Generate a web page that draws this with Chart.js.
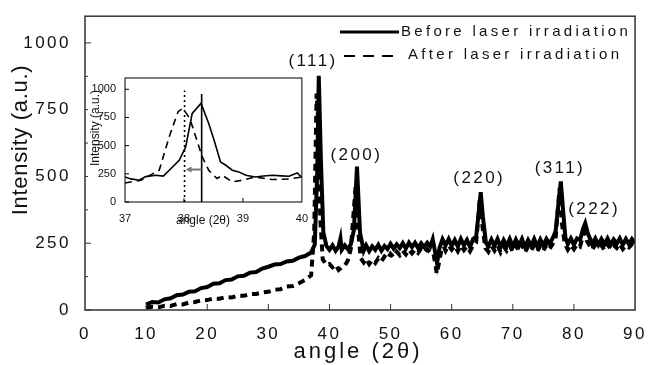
<!DOCTYPE html>
<html>
<head>
<meta charset="utf-8">
<script src="https://cdn.jsdelivr.net/npm/chart.js@4.4.0/dist/chart.umd.min.js"></script>
<style>
  html, body { margin: 0; padding: 0; background: #fff; }
  #wrap { position: relative; width: 653px; height: 365px; overflow: hidden; }
  #mainChart { position: absolute; left: 0; top: 0; }
  #insetChart { position: absolute; left: 88px; top: 70px; }
</style>
</head>
<body>
<div id="wrap">
  <canvas id="mainChart" width="653" height="365"></canvas>
  <canvas id="insetChart" width="222" height="165"></canvas>
</div>
<script>
// Main pattern: before laser irradiation (solid)
var beforeAngle = [10, 11, 12, 13, 14, 15, 16, 17, 18, 19, 20, 21, 22, 23, 24, 25, 26, 27, 28, 29, 30,
  31, 32, 33, 34, 35, 36, 37, 37.6, 38.0, 38.25, 38.6, 39.0, 39.5, 40, 40.5, 41, 41.5, 41.8, 42, 42.5, 43, 43.5,
  44.0, 44.5, 45.0, 45.6, 46, 46.5, 47, 47.5, 48, 48.5, 49, 49.5, 50, 50.5, 51, 51.5, 52, 52.5, 53, 53.5,
  54, 54.5, 55, 55.5, 56, 56.5, 56.9, 57.3, 57.6, 58.0, 58.5, 59, 59.5, 60, 60.5, 61, 61.5, 62, 62.5, 63, 63.5,
  64, 64.4, 64.75, 65.1, 65.6, 66, 66.5, 67, 67.5, 68, 68.5, 69, 69.5, 70, 70.5, 71, 71.5, 72, 72.5, 73, 73.5,
  74, 74.5, 75, 75.5, 76, 76.5, 77, 77.5, 77.85, 78.2, 78.6, 79, 79.5, 80, 80.5, 81, 81.5, 81.85, 82.3, 82.8,
  83, 83.5, 84, 84.5, 85, 85.5, 86, 86.5, 87, 87.5, 88, 88.5, 89, 89.5, 90];
var beforeIntensity = [20, 30, 28, 40, 44, 55, 58, 68, 70, 82, 86, 98, 100, 112, 114, 126, 128, 140, 142, 155, 162,
  170, 172, 182, 184, 196, 202, 215, 245, 520, 877, 560, 290, 240, 225, 242, 222, 238, 268, 225, 242, 228, 246,
  300, 537, 290, 222, 242, 220, 238, 225, 244, 222, 240, 228, 248, 230, 246, 232, 250, 230, 252, 235,
  252, 232, 250, 236, 252, 238, 265, 215, 175, 232, 265, 242, 266, 240, 262, 238, 266, 242, 262, 236, 266,
  275, 360, 441, 350, 252, 238, 264, 240, 266, 236, 262, 240, 266, 238, 264, 240, 266, 236, 262, 240, 266,
  238, 264, 242, 266, 248, 268, 295, 405, 481, 380, 272, 246, 268, 244, 268, 262, 305, 325, 285, 258,
  246, 268, 244, 266, 246, 268, 244, 264, 248, 268, 244, 266, 246, 266, 252];

// Main pattern: after laser irradiation (dashed)
var afterAngle = [10, 11, 12, 13, 14, 15, 16, 17, 18, 19, 20, 21, 22, 23, 24, 25, 26, 27, 28, 29, 30,
  31, 32, 33, 34, 35, 36, 37, 37.5, 37.9, 38.2, 38.5, 38.9, 39.5, 40, 40.5, 41, 41.5, 42, 42.5, 43, 43.5,
  44.0, 44.3, 44.7, 45.1, 45.6, 46, 46.5, 47, 47.5, 48, 48.5, 49, 49.5, 50, 50.5, 51, 51.5, 52, 52.5, 53, 53.5,
  54, 54.5, 55, 55.5, 56, 56.5, 57, 57.3, 57.55, 57.9, 58.3, 58.7, 59, 59.5, 60, 60.5, 61, 61.5, 62, 62.5, 63, 63.5,
  64, 64.3, 64.6, 65.0, 65.5, 66, 66.5, 67, 67.5, 68, 68.5, 69, 69.5, 70, 70.5, 71, 71.5, 72, 72.5, 73, 73.5,
  74, 74.5, 75, 75.5, 76, 76.5, 77, 77.3, 77.65, 78.0, 78.5, 79, 79.5, 80, 80.5, 81, 81.4, 81.7, 82.1, 82.6,
  83, 83.5, 84, 84.5, 85, 85.5, 86, 86.5, 87, 87.5, 88, 88.5, 89, 89.5, 90];
var afterIntensity = [8, 12, 10, 16, 15, 22, 21, 28, 30, 36, 37, 43, 42, 48, 47, 54, 53, 60, 60, 66, 68,
  76, 78, 88, 90, 100, 112, 130, 290, 810, 690, 340, 190, 168, 172, 160, 170, 150, 160, 165, 185, 230,
  380, 470, 300, 195, 178, 192, 172, 188, 176, 194, 182, 200, 190, 210, 198, 218, 205, 222, 208, 226, 212,
  226, 214, 230, 216, 228, 214, 212, 175, 136, 175, 222, 238, 222, 242, 226, 240, 220, 242, 224, 238, 220, 242,
  252, 330, 420, 320, 232, 218, 240, 222, 242, 216, 238, 222, 242, 218, 240, 222, 244, 216, 238, 222, 242,
  220, 240, 222, 244, 228, 246, 265, 360, 455, 330, 248, 226, 244, 228, 246, 238, 272, 292, 260, 240,
  226, 244, 230, 242, 224, 246, 228, 242, 232, 248, 228, 242, 234, 246, 236];

// Inset (37-40 deg) close-up of the (111) peak
var insetBeforeAngle = [37.0, 37.1, 37.24, 37.35, 37.52, 37.65, 37.75, 37.92, 38.03, 38.14, 38.29, 38.42, 38.51,
  38.62, 38.71, 38.82, 38.93, 39.05, 39.21, 39.35, 39.5, 39.65, 39.78, 39.92, 40.0, 40.05];
var insetBeforeIntensity = [222, 205, 193, 225, 237, 230, 282, 370, 490, 786, 875, 697, 549,
  356, 326, 282, 267, 237, 222, 230, 237, 232, 228, 258, 217, 200];
var insetAfterAngle = [37.0, 37.27, 37.58, 37.75, 37.9, 37.98, 38.1, 38.2, 38.31, 38.42, 38.56, 38.65,
  38.82, 38.99, 39.21, 39.5, 39.8, 40.0];
var insetAfterIntensity = [169, 193, 282, 579, 801, 831, 740, 579, 400, 282, 208, 237,
  178, 193, 222, 199, 205, 222];

// Peak positions in the inset (dotted = after, solid = before) and shift arrow
var markerAngle = [38.01, 38.3];
var markerTop = [990, 958];
var arrowLevel = 288;

// Miller index labels for the main pattern
var peakLabels = ['(111)', '(200)', '(220)', '(311)', '(222)'];
var peakLabelAngle = [37.3, 44.4, 64.5, 77.7, 83.3];
var peakLabelIntensity = [930, 580, 494, 531, 376];

var legendLabels = ['Before laser irradiation', 'After laser irradiation'];

var mainFont = 'Liberation Sans, Arial, sans-serif';

function toPoints(xs, ys) {
  return xs.map(function (x, i) { return { x: x, y: ys[i] }; });
}

function plainLabel(v) { return String(v); }

// Letter spacing for the main canvas text (the figure uses widely spaced labels)
var spacingPlugin = {
  id: 'spacing',
  beforeUpdate: function (chart) { chart.ctx.letterSpacing = '2.5px'; },
  beforeDraw: function (chart) { chart.ctx.letterSpacing = '2.5px'; }
};

// Frame, inward tick marks, titles, legend and peak labels for the main chart
var mainDecor = {
  id: 'mainDecor',
  afterDraw: function (chart) {
    var ctx = chart.ctx;
    var a = chart.chartArea;
    var xs = chart.scales.x, ys = chart.scales.y;
    ctx.save();
    ctx.strokeStyle = '#333';
    ctx.lineWidth = 1.5;
    ctx.strokeRect(a.left, a.top, a.right - a.left, a.bottom - a.top);

    ctx.lineWidth = 1;
    ctx.beginPath();
    for (var v = 0; v <= 1000; v += 125) {
      var py = ys.getPixelForValue(v);
      var len = v % 250 === 0 ? 6 : 3;
      ctx.moveTo(a.left, py);
      ctx.lineTo(a.left + len, py);
    }
    for (var t = 10; t < 90; t += 10) {
      var px = xs.getPixelForValue(t);
      ctx.moveTo(px, a.bottom);
      ctx.lineTo(px, a.bottom - 6);
    }
    ctx.stroke();

    ctx.fillStyle = '#111';
    ctx.textAlign = 'center';
    ctx.textBaseline = 'middle';
    ctx.font = '22px ' + mainFont;
    ctx.letterSpacing = '3px';
    ctx.fillText('angle (2\u03b8)', 358, 352);
    ctx.save();
    ctx.translate(21, 140);
    ctx.rotate(-Math.PI / 2);
    ctx.letterSpacing = '0.7px';
    ctx.fillText('Intensity (a.u.)', 0, 0);
    ctx.restore();

    ctx.font = '17px ' + mainFont;
    ctx.letterSpacing = '2.4px';
    peakLabels.forEach(function (lab, i) {
      ctx.fillText(lab, xs.getPixelForValue(peakLabelAngle[i]), ys.getPixelForValue(peakLabelIntensity[i]));
    });

    // legend
    ctx.font = '15px ' + mainFont;
    ctx.letterSpacing = '3.3px';
    ctx.textAlign = 'left';
    ctx.strokeStyle = '#000';
    ctx.lineWidth = 3;
    ctx.beginPath();
    ctx.moveTo(340, 32);
    ctx.lineTo(399, 32);
    ctx.stroke();
    ctx.setLineDash([11, 8]);
    ctx.lineWidth = 2;
    ctx.beginPath();
    ctx.moveTo(344, 56);
    ctx.lineTo(396, 56);
    ctx.stroke();
    ctx.setLineDash([]);
    ctx.fillText(legendLabels[0], 401, 32);
    ctx.fillText(legendLabels[1], 408, 55);
    ctx.restore();
  }
};

var mainChart = new Chart(document.getElementById('mainChart').getContext('2d'), {
  type: 'line',
  data: {
    datasets: [{
      label: legendLabels[0],
      data: toPoints(beforeAngle, beforeIntensity),
      borderColor: '#000',
      borderWidth: 4,
      pointRadius: 0,
      fill: false
    },
    {
      label: legendLabels[1],
      data: toPoints(afterAngle, afterIntensity),
      borderColor: '#000',
      borderWidth: 4,
      borderDash: [7, 5],
      pointRadius: 0,
      fill: false
    }]
  },
  options: {
    responsive: false,
    animation: false,
    layout: { padding: { top: 14, right: 10, left: 0, bottom: 0 } },
    plugins: { legend: { display: false }, tooltip: { enabled: false } },
    scales: {
      x: {
        type: 'linear',
        min: 0,
        max: 90,
        grid: { display: false },
        border: { display: false },
        ticks: { stepSize: 10, padding: 6, maxRotation: 0, autoSkip: false, callback: plainLabel, color: '#111', font: { size: 17, family: mainFont } },
        afterFit: function (s) { s.height = 55; }
      },
      y: {
        min: 0,
        max: 1100,
        grid: { display: false },
        border: { display: false },
        ticks: { stepSize: 250, includeBounds: false, padding: 6, autoSkip: false, callback: plainLabel, color: '#111', font: { size: 17, family: mainFont } },
        afterFit: function (s) { s.width = 85; }
      }
    }
  },
  plugins: [spacingPlugin, mainDecor]
});

// Inset chart
var insetDecor = {
  id: 'insetDecor',
  beforeDraw: function (chart) {
    var ctx = chart.ctx;
    ctx.save();
    ctx.fillStyle = '#fff';
    ctx.fillRect(0, 0, chart.width, chart.height);
    ctx.restore();
  },
  afterDraw: function (chart) {
    var ctx = chart.ctx;
    var a = chart.chartArea;
    var xs = chart.scales.x, ys = chart.scales.y;
    ctx.save();
    ctx.strokeStyle = '#000';
    ctx.lineWidth = 1;
    ctx.strokeRect(a.left, a.top, a.right - a.left, a.bottom - a.top);
    ctx.beginPath();
    for (var v = 0; v <= 1000; v += 250) {
      var py = ys.getPixelForValue(v);
      ctx.moveTo(a.left, py);
      ctx.lineTo(a.left + 4, py);
    }
    for (var t = 38; t < 40; t += 1) {
      var px = xs.getPixelForValue(t);
      ctx.moveTo(px, a.bottom);
      ctx.lineTo(px, a.bottom - 4);
    }
    ctx.stroke();

    // shift arrow from the before peak to the after peak
    var x1 = xs.getPixelForValue(markerAngle[1]);
    var x0 = xs.getPixelForValue(markerAngle[0]);
    var ay = ys.getPixelForValue(arrowLevel);
    ctx.strokeStyle = '#777';
    ctx.fillStyle = '#777';
    ctx.lineWidth = 2;
    ctx.beginPath();
    ctx.moveTo(x1, ay);
    ctx.lineTo(x0 + 6, ay);
    ctx.stroke();
    ctx.beginPath();
    ctx.moveTo(x0 + 1, ay);
    ctx.lineTo(x0 + 7, ay - 3);
    ctx.lineTo(x0 + 7, ay + 3);
    ctx.closePath();
    ctx.fill();

    ctx.fillStyle = '#111';
    ctx.textAlign = 'center';
    ctx.textBaseline = 'middle';
    ctx.font = '12px ' + mainFont;
    ctx.fillText('angle (2\u03b8)', 115, 151);
    ctx.translate(8, 58);
    ctx.rotate(-Math.PI / 2);
    ctx.fillText('Intensity (a.u.)', 0, 0);
    ctx.restore();
  }
};

var insetChart = new Chart(document.getElementById('insetChart').getContext('2d'), {
  type: 'line',
  data: {
    datasets: [{
      data: toPoints(insetBeforeAngle, insetBeforeIntensity),
      borderColor: '#000',
      borderWidth: 1.6,
      pointRadius: 0
    },
    {
      data: toPoints(insetAfterAngle, insetAfterIntensity),
      borderColor: '#000',
      borderWidth: 1.6,
      borderDash: [7, 5],
      pointRadius: 0
    },
    {
      data: [{ x: markerAngle[0], y: 0 }, { x: markerAngle[0], y: markerTop[0] }],
      borderColor: '#000',
      borderWidth: 1.6,
      borderDash: [2, 3],
      pointRadius: 0
    },
    {
      data: [{ x: markerAngle[1], y: 0 }, { x: markerAngle[1], y: markerTop[1] }],
      borderColor: '#000',
      borderWidth: 1.6,
      pointRadius: 0
    }]
  },
  options: {
    responsive: false,
    animation: false,
    layout: { padding: { top: 8, right: 6, left: 0, bottom: 0 } },
    plugins: { legend: { display: false }, tooltip: { enabled: false } },
    scales: {
      x: {
        type: 'linear',
        min: 37,
        max: 40,
        grid: { display: false },
        border: { display: false },
        ticks: { stepSize: 1, padding: 2, maxRotation: 0, autoSkip: false, callback: plainLabel, color: '#111', font: { size: 11, family: mainFont } },
        afterFit: function (s) { s.height = 33; }
      },
      y: {
        min: 0,
        max: 1100,
        grid: { display: false },
        border: { display: false },
        ticks: { stepSize: 250, includeBounds: false, padding: 1, autoSkip: false, callback: plainLabel, color: '#111', font: { size: 11, family: mainFont } },
        afterFit: function (s) { s.width = 37; }
      }
    }
  },
  plugins: [insetDecor]
});
</script>
</body>
</html>
